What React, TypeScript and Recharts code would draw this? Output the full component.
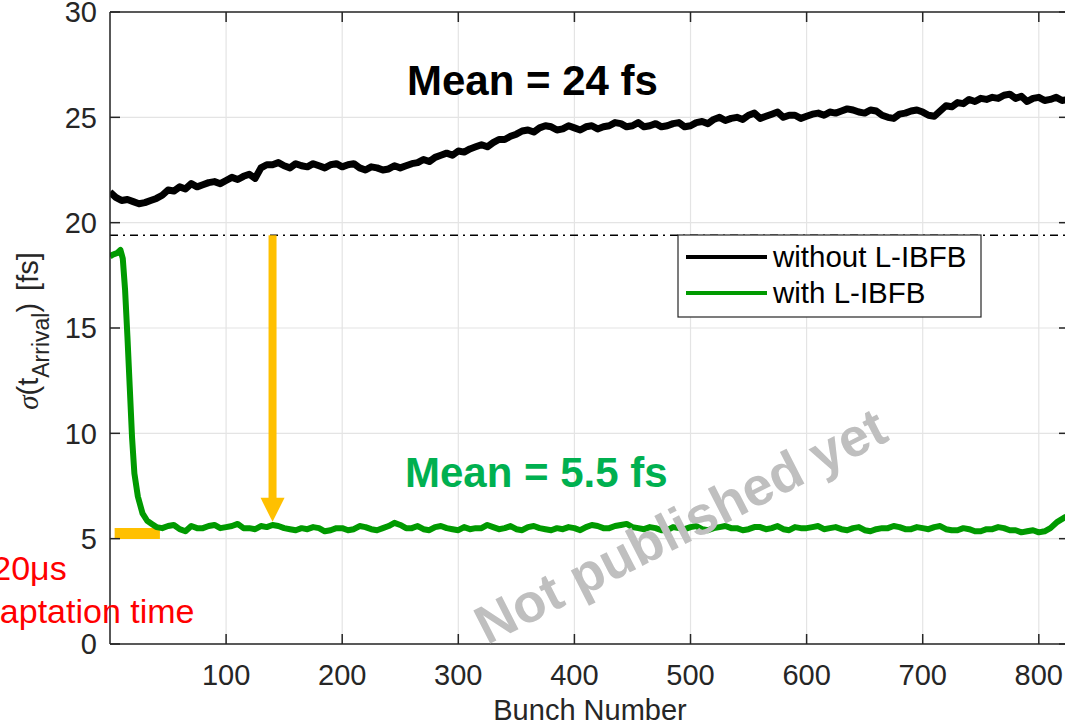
import React from "react";
import {
  LineChart,
  Line,
  XAxis,
  YAxis,
  CartesianGrid,
  ReferenceLine,
  ReferenceDot,
} from "recharts";

const FONT = "'Liberation Sans', Arial, Helvetica, sans-serif";
const AXIS = "#262626";
const BLACK = "#000000";
const GREEN = "#009a00";
const ORANGE = "#FFC000";

const xTicks = [100, 200, 300, 400, 500, 600, 700, 800];
const yTicks = [0, 5, 10, 15, 20, 25, 30];

// without L-IBFB (black), every 5 bunches
const withoutBunch = [
  0, 5, 10, 15, 20, 25, 30, 35, 40, 45, 50, 55, 60, 65, 70, 75, 80, 85, 90, 95,
  100, 105, 110, 115, 120, 125, 130, 135, 140, 145, 150, 155, 160, 165, 170, 175,
  180, 185, 190, 195, 200, 205, 210, 215, 220, 225, 230, 235, 240, 245, 250, 255,
  260, 265, 270, 275, 280, 285, 290, 295, 300, 305, 310, 315, 320, 325, 330, 335,
  340, 345, 350, 355, 360, 365, 370, 375, 380, 385, 390, 395, 400, 405, 410, 415,
  420, 425, 430, 435, 440, 445, 450, 455, 460, 465, 470, 475, 480, 485, 490, 495,
  500, 505, 510, 515, 520, 525, 530, 535, 540, 545, 550, 555, 560, 565, 570, 575,
  580, 585, 590, 595, 600, 605, 610, 615, 620, 625, 630, 635, 640, 645, 650, 655,
  660, 665, 670, 675, 680, 685, 690, 695, 700, 705, 710, 715, 720, 725, 730, 735,
  740, 745, 750, 755, 760, 765, 770, 775, 780, 785, 790, 795, 800, 805, 810, 815,
  820, 826,
];
const withoutSigma = [
  21.45, 21.2, 21.05, 21.1, 21.0, 20.9, 20.95, 21.05, 21.15, 21.3, 21.55, 21.5,
  21.7, 21.6, 21.85, 21.7, 21.8, 21.9, 21.95, 21.85, 22.0, 22.15, 22.05, 22.2, 22.3,
  22.1, 22.6, 22.75, 22.75, 22.85, 22.7, 22.6, 22.8, 22.7, 22.65, 22.8, 22.7, 22.6,
  22.75, 22.8, 22.65, 22.75, 22.8, 22.6, 22.5, 22.65, 22.6, 22.5, 22.55, 22.7, 22.6,
  22.7, 22.8, 22.85, 23.0, 22.9, 23.1, 23.2, 23.3, 23.2, 23.4, 23.35, 23.5, 23.6,
  23.7, 23.6, 23.8, 23.95, 23.95, 24.1, 24.2, 24.35, 24.4, 24.3, 24.5, 24.6, 24.55,
  24.4, 24.45, 24.6, 24.5, 24.4, 24.55, 24.6, 24.45, 24.55, 24.6, 24.75, 24.7, 24.55,
  24.6, 24.75, 24.55, 24.6, 24.7, 24.55, 24.6, 24.7, 24.75, 24.55, 24.6, 24.75, 24.8,
  24.7, 24.9, 25.0, 24.85, 24.95, 25.0, 24.9, 25.1, 25.2, 24.95, 25.05, 25.15, 25.25,
  25.0, 25.1, 25.1, 24.95, 25.05, 25.15, 25.2, 25.1, 25.25, 25.2, 25.3, 25.4, 25.35,
  25.25, 25.2, 25.35, 25.3, 25.1, 25.0, 24.95, 25.15, 25.2, 25.3, 25.35, 25.25, 25.1,
  25.05, 25.3, 25.55, 25.5, 25.7, 25.65, 25.85, 25.75, 25.9, 25.85, 25.95, 25.9,
  26.05, 26.1, 25.9, 26.0, 25.75, 25.9, 25.95, 25.8, 25.85, 25.95, 25.8, 25.85,
];

// with L-IBFB (green)
const withBunch = [
  0, 3, 6, 9, 11, 13, 15, 17, 19, 21, 24, 28, 32, 36, 40, 45, 50, 55, 60, 65, 70,
  75, 80, 85, 90, 95, 100, 105, 110, 115, 120, 125, 130, 135, 140, 145, 150, 155,
  160, 165, 170, 175, 180, 185, 190, 195, 200, 205, 210, 215, 220, 225, 230, 235,
  240, 245, 250, 255, 260, 265, 270, 275, 280, 285, 290, 295, 300, 305, 310, 315,
  320, 325, 330, 335, 340, 345, 350, 355, 360, 365, 370, 375, 380, 385, 390, 395,
  400, 405, 410, 415, 420, 425, 430, 435, 440, 445, 450, 455, 460, 465, 470, 475,
  480, 485, 490, 495, 500, 505, 510, 515, 520, 525, 530, 535, 540, 545, 550, 555,
  560, 565, 570, 575, 580, 585, 590, 595, 600, 605, 610, 615, 620, 625, 630, 635,
  640, 645, 650, 655, 660, 665, 670, 675, 680, 685, 690, 695, 700, 705, 710, 715,
  720, 725, 730, 735, 740, 745, 750, 755, 760, 765, 770, 775, 780, 785, 790, 795,
  800, 805, 810, 816, 822, 826,
];
const withSigma = [
  18.4, 18.5, 18.55, 18.7, 18.3, 16.8, 14.6, 12.2, 9.8, 8.1, 7.0, 6.2, 5.85, 5.7,
  5.55, 5.5, 5.6, 5.65, 5.45, 5.35, 5.6, 5.5, 5.5, 5.6, 5.65, 5.5, 5.55, 5.6, 5.7,
  5.5, 5.5, 5.45, 5.6, 5.55, 5.65, 5.6, 5.5, 5.45, 5.4, 5.5, 5.45, 5.55, 5.5, 5.35,
  5.4, 5.5, 5.5, 5.4, 5.45, 5.6, 5.55, 5.45, 5.4, 5.5, 5.6, 5.75, 5.65, 5.5, 5.5,
  5.6, 5.45, 5.4, 5.55, 5.6, 5.5, 5.45, 5.4, 5.55, 5.45, 5.5, 5.5, 5.65, 5.55, 5.45,
  5.5, 5.6, 5.45, 5.4, 5.55, 5.6, 5.5, 5.45, 5.4, 5.5, 5.45, 5.55, 5.5, 5.4, 5.55,
  5.65, 5.6, 5.5, 5.5, 5.6, 5.65, 5.7, 5.55, 5.5, 5.45, 5.55, 5.5, 5.4, 5.4, 5.55,
  5.5, 5.45, 5.55, 5.6, 5.45, 5.4, 5.5, 5.55, 5.6, 5.5, 5.5, 5.4, 5.45, 5.55, 5.55,
  5.45, 5.5, 5.6, 5.45, 5.4, 5.55, 5.5, 5.5, 5.55, 5.6, 5.45, 5.5, 5.55, 5.45, 5.4,
  5.5, 5.55, 5.4, 5.35, 5.45, 5.5, 5.5, 5.6, 5.55, 5.45, 5.45, 5.55, 5.5, 5.45, 5.55,
  5.6, 5.45, 5.4, 5.4, 5.5, 5.45, 5.35, 5.35, 5.45, 5.45, 5.55, 5.5, 5.4, 5.4, 5.3,
  5.35, 5.4, 5.3, 5.35, 5.5, 5.8, 6.0, 6.1,
];

const blackData = withoutBunch.map((b, i) => ({ bunch: b, sigma: withoutSigma[i] }));
const greenData = withBunch.map((b, i) => ({ bunch: b, sigma: withSigma[i] }));

// annotations
const threshold = 19.4;
const arrowBunch = 140;
const arrowHeadTop = 6.9;
const arrowTip = 5.8;
const adaptStart = 4;
const adaptEnd = 43;
const adaptLevel = 5.25;

const TICK_LEN = 10;
const X_MARGIN = 20;
const Y_MARGIN = 13;

const BottomTick = (props: any) => {
  const { x, y, payload } = props;
  const axisY = y - X_MARGIN;
  return (
    <g>
      <line x1={x} x2={x} y1={axisY} y2={axisY - TICK_LEN} stroke={AXIS} strokeWidth={1.5} />
      <text x={x} y={y} dy="0.71em" textAnchor="middle" fill={AXIS} fontSize={29} fontFamily={FONT}>
        {payload.value}
      </text>
    </g>
  );
};

const LeftTick = (props: any) => {
  const { x, y, payload } = props;
  const axisX = x + Y_MARGIN;
  return (
    <g>
      <line x1={axisX} x2={axisX + TICK_LEN} y1={y} y2={y} stroke={AXIS} strokeWidth={1.5} />
      <text x={x} y={y} dy="0.355em" textAnchor="end" fill={AXIS} fontSize={29} fontFamily={FONT}>
        {payload.value}
      </text>
    </g>
  );
};

const TopTick = (props: any) => {
  const { x, y } = props;
  return <line x1={x} x2={x} y1={y} y2={y + TICK_LEN} stroke={AXIS} strokeWidth={1.5} />;
};

const RightTick = (props: any) => {
  const { x, y } = props;
  return <line x1={x} x2={x - TICK_LEN} y1={y} y2={y} stroke={AXIS} strokeWidth={1.5} />;
};

const ArrowHead = (props: any) => {
  const { cx, cy } = props;
  return (
    <polygon
      points={`${cx - 12},${cy - 24} ${cx + 12},${cy - 24} ${cx},${cy}`}
      fill={ORANGE}
    />
  );
};

const App = () => {
  return (
    <div
      style={{
        position: "absolute",
        left: 0,
        top: 0,
        width: 1065,
        height: 725,
        overflow: "hidden",
        background: "#fff",
      }}
    >
      <LineChart
        width={1075}
        height={725}
        margin={{ top: 11, right: 5, left: 0, bottom: 0 }}
      >
        <CartesianGrid stroke="#e4e4e4" strokeWidth={1.2} />
        <XAxis
          type="number"
          dataKey="bunch"
          domain={[0, 826]}
          allowDataOverflow
          ticks={xTicks}
          height={81}
          tickSize={0}
          tickMargin={X_MARGIN}
          tickLine={false}
          axisLine={{ stroke: AXIS, strokeWidth: 1.5 }}
          tick={<BottomTick />}
        />
        <XAxis
          xAxisId="top"
          orientation="top"
          type="number"
          dataKey="bunch"
          domain={[0, 826]}
          allowDataOverflow
          ticks={xTicks}
          height={1}
          tickSize={0}
          tickMargin={0}
          tickLine={false}
          axisLine={{ stroke: AXIS, strokeWidth: 1.5 }}
          tick={<TopTick />}
        />
        <YAxis
          type="number"
          domain={[0, 30]}
          allowDataOverflow
          ticks={yTicks}
          width={110}
          tickSize={0}
          tickMargin={Y_MARGIN}
          tickLine={false}
          axisLine={{ stroke: AXIS, strokeWidth: 1.5 }}
          tick={<LeftTick />}
        />
        <YAxis
          yAxisId="right"
          orientation="right"
          type="number"
          domain={[0, 30]}
          allowDataOverflow
          ticks={yTicks}
          width={1}
          tickSize={0}
          tickMargin={0}
          tickLine={false}
          axisLine={{ stroke: AXIS, strokeWidth: 1.5 }}
          tick={<RightTick />}
        />
        <ReferenceLine
          y={threshold}
          stroke="#000"
          strokeWidth={1.6}
          strokeDasharray="8 5 2 5"
        />
        <ReferenceLine
          segment={[
            { x: arrowBunch, y: threshold },
            { x: arrowBunch, y: arrowHeadTop },
          ]}
          stroke={ORANGE}
          strokeWidth={8}
        />
        <ReferenceDot x={arrowBunch} y={arrowTip} shape={<ArrowHead />} />
        <ReferenceLine
          segment={[
            { x: adaptStart, y: adaptLevel },
            { x: adaptEnd, y: adaptLevel },
          ]}
          stroke={ORANGE}
          strokeWidth={11}
        />
        <Line
          data={blackData}
          dataKey="sigma"
          name="without L-IBFB"
          stroke={BLACK}
          strokeWidth={7}
          strokeLinejoin="round"
          dot={false}
          type="linear"
          isAnimationActive={false}
        />
        <Line
          data={greenData}
          dataKey="sigma"
          name="with L-IBFB"
          stroke={GREEN}
          strokeWidth={6}
          strokeLinejoin="round"
          dot={false}
          type="linear"
          isAnimationActive={false}
        />
      </LineChart>

      <svg
        width={1065}
        height={725}
        style={{ position: "absolute", left: 0, top: 0, pointerEvents: "none" }}
      >
        {/* legend */}
        <rect x={678} y={235} width={303} height={82} fill="#fff" stroke={AXIS} strokeWidth={1.2} />
        <line x1={686} x2={767} y1={257} y2={257} stroke={BLACK} strokeWidth={4} />
        <text x={773} y={267} fontSize={29.5} fontFamily={FONT} fill="#000">
          without L-IBFB
        </text>
        <line x1={686} x2={767} y1={293} y2={293} stroke={GREEN} strokeWidth={4} />
        <text x={773} y={303} fontSize={29.5} fontFamily={FONT} fill="#000">
          with L-IBFB
        </text>

        {/* axis labels */}
        <text x={590} y={720} textAnchor="middle" fontSize={29} fontFamily={FONT} fill={AXIS}>
          Bunch Number
        </text>
        <text
          transform="translate(38,331) rotate(-90)"
          textAnchor="middle"
          fontSize={29}
          fontFamily={FONT}
          fill={AXIS}
        >
          <tspan fontStyle="italic" fontFamily="'Liberation Serif', serif">σ</tspan>
          <tspan>(t</tspan>
          <tspan dy={11} fontSize={23}>Arrival</tspan>
          <tspan dy={-11}>)</tspan>
          <tspan dx={12}>[fs]</tspan>
        </text>

        {/* annotations */}
        <text x={407} y={95} fontSize={42} fontWeight="bold" fontFamily={FONT} fill="#000">
          Mean = 24 fs
        </text>
        <text x={405} y={487} fontSize={42} fontWeight="bold" fontFamily={FONT} fill="#00B050">
          Mean = 5.5 fs
        </text>
        <text x={-37} y={580} fontSize={34} fontFamily={FONT} fill="#FF0000">
          ~ 20μs
        </text>
        <text x={-38} y={623} fontSize={34} fontFamily={FONT} fill="#FF0000">
          adaptation time
        </text>
        <text
          transform="translate(680,525) rotate(-27)"
          textAnchor="middle"
          dy="0.36em"
          fontSize={54}
          fontWeight="bold"
          fontFamily={FONT}
          fill="#BFBFBF"
        >
          Not published yet
        </text>
      </svg>
    </div>
  );
};

export default App;
